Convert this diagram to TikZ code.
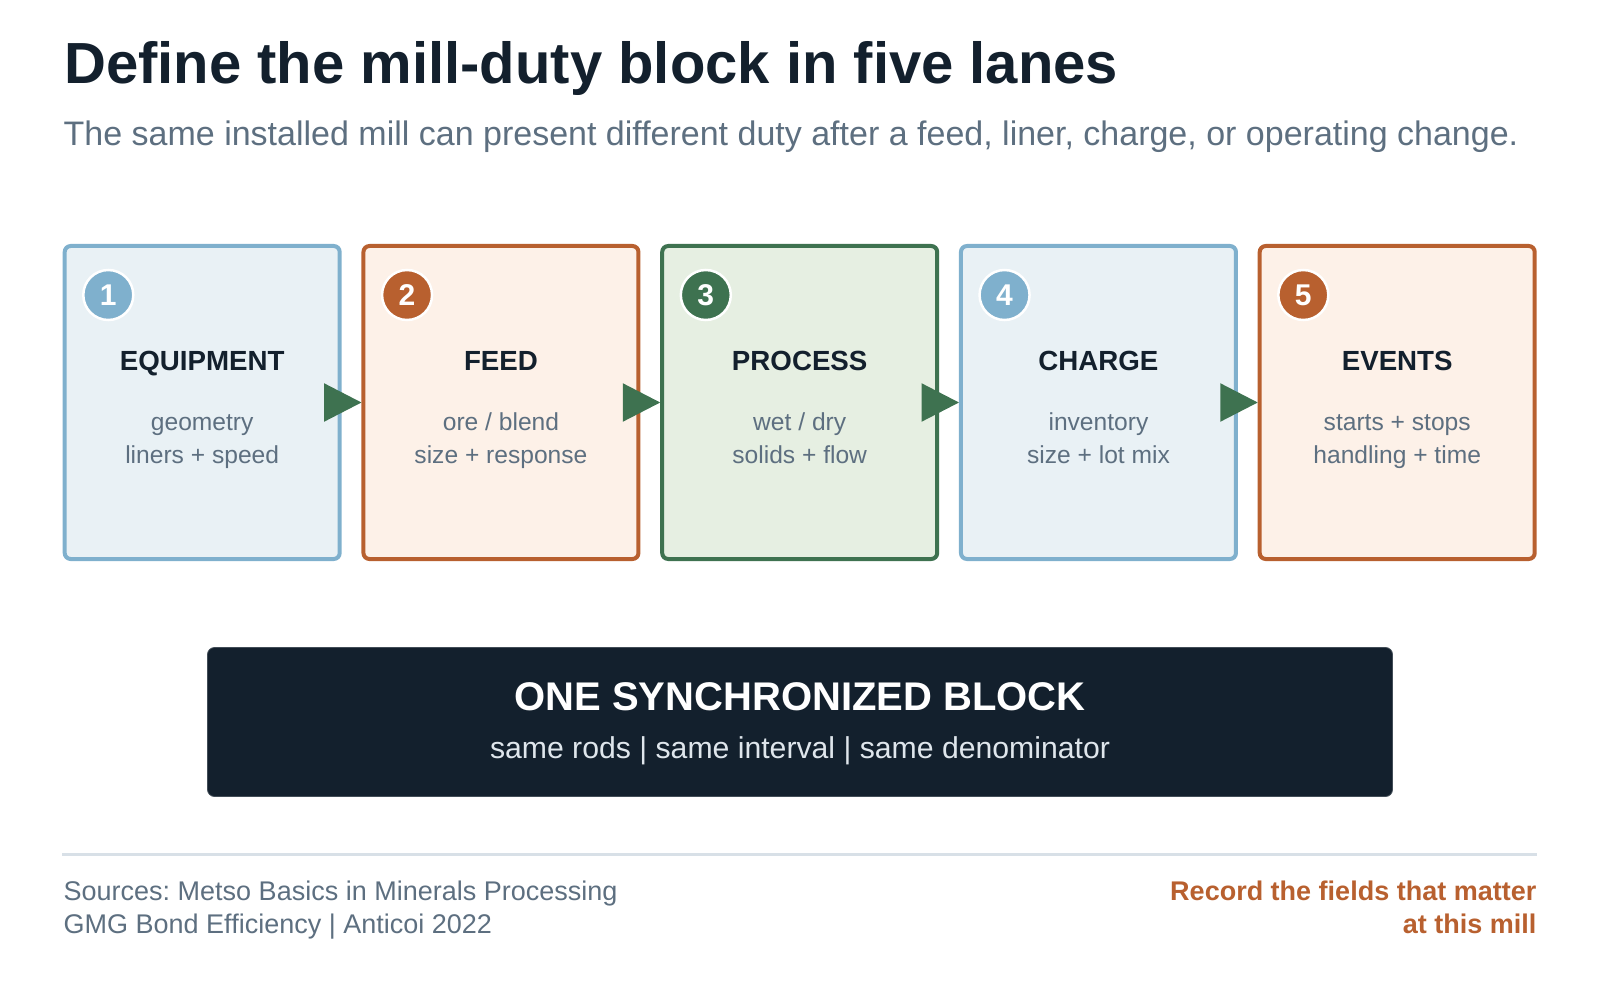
\documentclass[tikz,border=0pt]{standalone}
\usepackage{fontspec}
\setmainfont{Liberation Sans}
\usetikzlibrary{calc}
\frenchspacing
\definecolor{ink}{HTML}{13202D}
\definecolor{slate}{HTML}{5D6F80}
\definecolor{blueS}{HTML}{7FB0CD}
\definecolor{blueF}{HTML}{E9F1F5}
\definecolor{oraS}{HTML}{B8602F}
\definecolor{oraF}{HTML}{FDF1E8}
\definecolor{grnS}{HTML}{3E7250}
\definecolor{grnF}{HTML}{E6EFE2}
\definecolor{rule}{HTML}{D8E0E7}
\definecolor{pale}{HTML}{DFE6EC}
\begin{document}
\begin{tikzpicture}[x=1pt,y=-1pt,
  lane/.style={draw, line width=4pt, rounded corners=6pt, minimum width=275pt, minimum height=313pt, inner sep=0pt},
  badge/.style={circle, draw=white, line width=2.5pt, minimum size=50pt, inner sep=0pt, text=white, font=\fontsize{30}{30}\bfseries\selectfont},
  head/.style={anchor=base, inner sep=0pt, text=ink, font=\fontsize{27.7}{30}\bfseries\selectfont},
  subl/.style={anchor=base, inner sep=0pt, text=slate, font=\fontsize{24.6}{28}\selectfont},
  flow/.style={fill=grnS},
  foot/.style={inner sep=0pt, font=\fontsize{27}{30}\selectfont}
]
\useasboundingbox (0,0) rectangle (1600,1000);

% title
\node[anchor=base west, inner sep=0pt, text=ink, font=\fontsize{58}{64}\bfseries\selectfont] (title) at (64,83.5) {Define the mill-duty block in five lanes};
\node[anchor=base west, inner sep=0pt, text=slate, font=\fontsize{34.0}{38}\selectfont] (subtitle) at (63.5,146) {The same installed mill can present different duty after a feed, liner, charge, or operating change.};

% lanes
\node[lane, draw=blueS, fill=blueF] (b1) at (202.2,402.5) {};
\node[lane, draw=oraS, fill=oraF] (b2) at (500.95,402.5) {};
\node[lane, draw=grnS, fill=grnF] (b3) at (799.7,402.5) {};
\node[lane, draw=blueS, fill=blueF] (b4) at (1098.45,402.5) {};
\node[lane, draw=oraS, fill=oraF] (b5) at (1397.2,402.5) {};

% connectors
\foreach \a/\b in {b1/b2,b2/b3,b3/b4,b4/b5}{
  \fill[flow] ($(\a.east)+(-17.7,-19.3)$) -- (\b.west) -- ($(\a.east)+(-17.7,19.3)$) -- cycle;
}

% badges
\node[badge, fill=blueS] (n1) at ($(b1.north west)+(45.6,51)$) {1};
\node[badge, fill=oraS] (n2) at ($(b2.north west)+(45.6,51)$) {2};
\node[badge, fill=grnS] (n3) at ($(b3.north west)+(45.6,51)$) {3};
\node[badge, fill=blueS] (n4) at ($(b4.north west)+(45.6,51)$) {4};
\node[badge, fill=oraS] (n5) at ($(b5.north west)+(45.6,51)$) {5};

% headings and details
\node[head] (h1) at ($(b1.north)+(0,126)$) {EQUIPMENT};
\node[subl] (s1a) at ($(b1.north)+(0,186.5)$) {geometry};
\node[subl] (s1b) at ($(b1.north)+(0,219.8)$) {liners + speed};

\node[head] (h2) at ($(b2.north)+(0,126)$) {FEED};
\node[subl] (s2a) at ($(b2.north)+(0,186.5)$) {ore / blend};
\node[subl] (s2b) at ($(b2.north)+(0,219.8)$) {size + response};

\node[head] (h3) at ($(b3.north)+(0,126)$) {PROCESS};
\node[subl] (s3a) at ($(b3.north)+(0,186.5)$) {wet / dry};
\node[subl] (s3b) at ($(b3.north)+(0,219.8)$) {solids + flow};

\node[head] (h4) at ($(b4.north)+(0,126)$) {CHARGE};
\node[subl] (s4a) at ($(b4.north)+(0,186.5)$) {inventory};
\node[subl] (s4b) at ($(b4.north)+(0,219.8)$) {size + lot mix};

\node[head] (h5) at ($(b5.north)+(0,126)$) {EVENTS};
\node[subl] (s5a) at ($(b5.north)+(0,186.5)$) {starts + stops};
\node[subl] (s5b) at ($(b5.north)+(0,219.8)$) {handling + time};

% synchronized block
\node[fill=ink, draw=ink!80!white, line width=0.8pt, rounded corners=7pt, minimum width=1185pt, minimum height=149pt, inner sep=0pt] (blk) at (800,722) {};
\node[anchor=base, inner sep=0pt, text=white, font=\fontsize{40}{44}\bfseries\selectfont] (blkt) at (800,710) {ONE SYNCHRONIZED BLOCK};
\node[anchor=base, inner sep=0pt, text=pale, font=\fontsize{30.2}{34}\selectfont] (blks) at (800,758) {same rods | same interval | same denominator};

% footer
\coordinate (rl) at (62,854.5);
\coordinate (rr) at (1537,854.5);
\draw[rule, line width=3pt] (rl) -- (rr);
\node[foot, anchor=base west, text=slate] (src1) at (63.5,900.5) {Sources: Metso Basics in Minerals Processing};
\node[foot, anchor=base west, text=slate] (src2) at (63.5,933.5) {GMG Bond Efficiency | Anticoi 2022};
\node[foot, anchor=base east, text=oraS, font=\fontsize{27}{30}\bfseries\selectfont] (rec1) at (1536.5,900.5) {Record the fields that matter};
\node[foot, anchor=base east, text=oraS, font=\fontsize{27}{30}\bfseries\selectfont] (rec2) at (1536.5,933.5) {at this mill};
\end{tikzpicture}
\end{document}
